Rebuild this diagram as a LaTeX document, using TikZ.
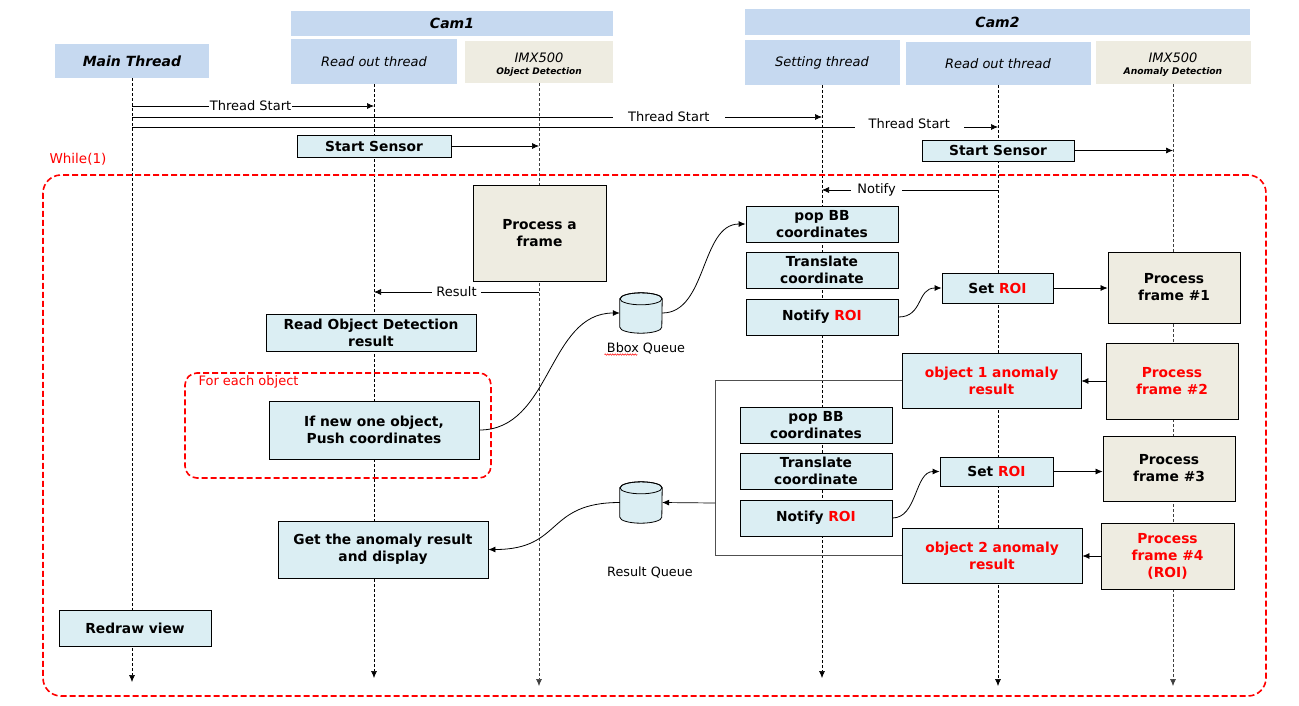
\documentclass[tikz,border=0pt]{standalone}
\usepackage{fontspec}
\setmainfont{DejaVu Sans}
\usetikzlibrary{arrows.meta,shadows,decorations.pathmorphing}
\definecolor{hdrblue}{RGB}{198,217,240}
\definecolor{boxblue}{RGB}{219,238,243}
\definecolor{beige}{RGB}{238,236,225}
\definecolor{rd}{RGB}{255,0,0}
\definecolor{brkgray}{RGB}{80,80,80}
\newcommand\bxf{\fontsize{13.8}{17}\selectfont\bfseries}
\newcommand\roi{\textcolor{rd}{ROI}}
\newcommand\drawcyl[1]{%
  \filldraw[fill=boxblue,line width=0.8pt] ([yshift=-6pt]#1.north west) -- ([yshift=6pt]#1.south west)
    arc[start angle=180,end angle=360,x radius=21pt,y radius=6pt]
    -- ([yshift=-6pt]#1.north east)
    arc[start angle=0,end angle=180,x radius=21pt,y radius=6pt] -- cycle;
  \draw[line width=0.8pt] ([yshift=-6pt]#1.north) ellipse[x radius=21pt,y radius=6pt];}
\begin{document}
\begin{tikzpicture}[x=1pt,y=-1pt,
  hdr/.style={fill=hdrblue,inner sep=0pt,align=center,font=\fontsize{13}{15}\selectfont\itshape},
  hdrb/.style={hdr,font=\fontsize{14}{16}\selectfont\bfseries\itshape},
  bx/.style={draw=black,line width=0.8pt,fill=boxblue,inner sep=0pt,align=center,font=\bxf,
    drop shadow={shadow xshift=1.2pt,shadow yshift=-1.2pt,opacity=0.2,fill=black}},
  bg/.style={bx,fill=beige},
  life/.style={line width=0.6pt,dash pattern=on 3pt off 2pt,-{Latex[length=7pt,width=6pt]}},
  msg/.style={line width=0.7pt,-{Latex[length=7pt,width=6pt]}},
  lbl/.style={fill=white,inner ysep=1pt,font=\fontsize{13}{14}\selectfont},
  brkline/.style={draw=brkgray,line width=1pt},
  redframe/.style={draw=rd,line width=1.6pt,dash pattern=on 6pt off 3pt,inner sep=0pt},
  cylnode/.style={inner sep=0pt,minimum width=42pt},
  qlbl/.style={font=\fontsize{12.8}{14}\selectfont}
]
\fill[white] (0,0) rectangle (1299,705);
\useasboundingbox (0,0) rectangle (1299,705);

% headers
\node[hdrb,minimum width=154pt,minimum height=34pt] (mt) at (132,61) {Main Thread};
\node[hdrb,minimum width=322pt,minimum height=25pt] (cam1) at (452,23.5) {Cam1};
\node[hdr,minimum width=166pt,minimum height=45pt] (ro1) at (374,61.5) {Read out thread};
\node[hdr,fill=beige,minimum width=148pt,minimum height=42pt] (imx1) at (539,62) {\rule{0pt}{14pt}IMX500\\[-3pt]{\fontsize{9}{10}\selectfont\bfseries\itshape Object Detection}};
\node[hdrb,minimum width=505pt,minimum height=26pt] (cam2) at (997.5,22) {Cam2};
\node[hdr,minimum width=155pt,minimum height=45pt] (st) at (822,62.5) {Setting thread};
\node[hdr,minimum width=185pt,minimum height=43pt] (ro2) at (998,63.5) {Read out thread};
\node[hdr,fill=beige,minimum width=155pt,minimum height=43pt] (imx2) at (1173,62.5) {\rule{0pt}{14pt}IMX500\\[-3pt]{\fontsize{9.2}{10}\selectfont\bfseries\itshape Anomaly Detection}};

% lifelines
\coordinate (mtE) at (132,682);
\coordinate (ro1E) at (374,678);
\coordinate (imx1E) at (539,686);
\coordinate (stE) at (822,678);
\coordinate (ro2E) at (998,686);
\coordinate (imx2E) at (1173,686);
\draw[life] (mt.south) -- (mtE);
\draw[life] (ro1.south) -- (ro1E);
\draw[life,draw=black!75] (imx1.south) -- (imx1E);
\draw[life] (st.south) -- (stE);
\draw[life] (ro2.south) -- (ro2E);
\draw[life,draw=black!75] (imx2.south) -- (imx2E);

% loop frames
\node[redframe,rounded corners=18pt,minimum width=1223pt,minimum height=521pt] (loop) at (654.5,435.5) {};
\node[anchor=west,text=rd,font=\fontsize{13.5}{15}\selectfont] (whl) at (46,159) {While(1)};
\node[redframe,rounded corners=12pt,minimum width=306pt,minimum height=105pt] (fe) at (338,425.5) {};
\node[anchor=west,text=rd,font=\fontsize{13}{14}\selectfont] (fel) at (195,381.5) {For each object};

% thread start messages
\coordinate (t1a) at (132,106); \coordinate (t1b) at (374,106);
\draw[msg] (t1a) -- node[lbl,inner xsep=0.5pt,pos=0.49] {Thread Start} (t1b);
\coordinate (t2a) at (132,117); \coordinate (t2b) at (822,117);
\draw[msg] (t2a) -- node[lbl,inner xsep=15pt,pos=0.778] {Thread Start} (t2b);
\coordinate (t3a) at (132,127); \coordinate (t3b) at (998,127);
\draw[msg] (t3a) -- node[lbl,inner xsep=14pt,pos=0.8975,yshift=3pt] {Thread Start} (t3b);

% start sensors
\node[bx,minimum width=154pt,minimum height=22pt] (ss1) at (374,146) {Start Sensor};
\coordinate (ss1t) at (539,146);
\draw[msg] (ss1.east) -- (ss1t);
\node[bx,minimum width=152pt,minimum height=21pt] (ss2) at (998,150.5) {Start Sensor};
\coordinate (ss2t) at (1173,150.5);
\draw[msg] (ss2.east) -- (ss2t);

% notify
\coordinate (nfa) at (998,190); \coordinate (nfb) at (822,190);
\draw[msg] (nfa) -- node[lbl,inner xsep=6pt,pos=0.69] {Notify} (nfb);

% cam1 side
\node[bg,minimum width=133pt,minimum height=96pt] (paf) at (539.5,233) {Process a\\frame};
\coordinate (rsa) at (539,292); \coordinate (rsb) at (374,292);
\draw[msg] (rsa) -- node[lbl,inner xsep=4pt,pos=0.5] {Result} (rsb);
\node[bx,minimum width=210pt,minimum height=37pt] (rod) at (371,332.5) {Read Object Detection\\result};
\node[bx,minimum width=210pt,minimum height=58pt] (ifn) at (374,430) {If new one object,\\Push coordinates};
\node[bx,minimum width=210pt,minimum height=57pt] (gar) at (383,549.5) {Get the anomaly result\\and display};
\node[bx,minimum width=152pt,minimum height=36pt] (rv) at (135,628) {Redraw view};

% queues
\node[cylnode,minimum height=40pt] (bbq) at (641,313) {};
\drawcyl{bbq}
\node[qlbl] (bbql) at (646,348) {Bbox Queue};
\draw[rd,line width=0.5pt,decorate,decoration={snake,amplitude=0.7pt,segment length=2.5pt}]
  ([xshift=1pt,yshift=-2.5pt]bbql.base west) -- ++(33,0);
\node[cylnode,minimum height=41pt] (rq) at (641,502.5) {};
\drawcyl{rq}
\node[qlbl] (rql) at (650,572) {Result Queue};

% cam2 side
\node[bx,minimum width=152pt,minimum height=36pt] (pop1) at (822,224) {pop BB\\coordinates};
\node[bx,minimum width=152pt,minimum height=36pt] (tr1) at (822,270) {Translate\\coordinate};
\node[bx,minimum width=152pt,minimum height=36pt] (nr1) at (822,317) {Notify \roi};
\node[bx,minimum width=111pt,minimum height=30pt] (sr1) at (997.5,288) {Set \roi};
\node[bg,minimum width=132pt,minimum height=71pt] (pf1) at (1174,287.5) {Process\\frame \#1};
\node[bx,minimum width=179pt,minimum height=55pt,text=rd] (ob1) at (991.5,380.5) {object 1 anomaly\\result};
\node[bg,minimum width=132pt,minimum height=76pt,text=rd] (pf2) at (1172,381) {Process\\frame \#2};
\node[bx,minimum width=152pt,minimum height=36pt] (pop2) at (816,425) {pop BB\\coordinates};
\node[bx,minimum width=152pt,minimum height=36pt] (tr2) at (816,471) {Translate\\coordinate};
\node[bx,minimum width=152pt,minimum height=36pt] (nr2) at (816,518) {Notify \roi};
\node[bx,minimum width=113pt,minimum height=29pt] (sr2) at (996.5,471.5) {Set \roi};
\node[bg,minimum width=132pt,minimum height=65pt] (pf3) at (1169,468.5) {Process\\frame \#3};
\node[bx,minimum width=180pt,minimum height=55pt,text=rd] (ob2) at (992,555.5) {object 2 anomaly\\result};
\node[bg,minimum width=133pt,minimum height=66pt,text=rd] (pf4) at (1167.5,556) {Process\\frame \#4\\(ROI)};

% connectors
\draw[msg,line width=0.8pt] (ifn.east) .. controls +(72,0) and +(-72,0) .. (bbq.west);
\draw[msg,line width=0.8pt] (bbq.east) .. controls +(45,0) and +(-45,0) .. (pop1.west);
\draw[msg,line width=0.8pt] (nr1.east) .. controls +(25,0) and +(-25,0) .. (sr1.west);
\draw[msg,line width=0.8pt] (nr2.east) .. controls +(25,0) and +(-25,0) .. (sr2.west);
\draw[msg] (sr1.east) -- (sr1.east -| pf1.west);
\draw[msg] (sr2.east) -- (sr2.east -| pf3.west);
\draw[msg] (pf2.west) -- (pf2.west -| ob1.east);
\draw[msg] (pf4.west) -- (pf4.west -| ob2.east);
\coordinate (brx) at (715,0);
\draw[brkline] (ob1.west) -- (ob1.west -| brx) -- (ob2.west -| brx) -- (ob2.west);
\coordinate (brm) at (715,503);
\draw[msg] (brm) -- (rq.east);
\draw[msg,line width=0.8pt] (rq.west) .. controls +(-75,0) and +(75,0) .. (gar.east);
\end{tikzpicture}
\end{document}
